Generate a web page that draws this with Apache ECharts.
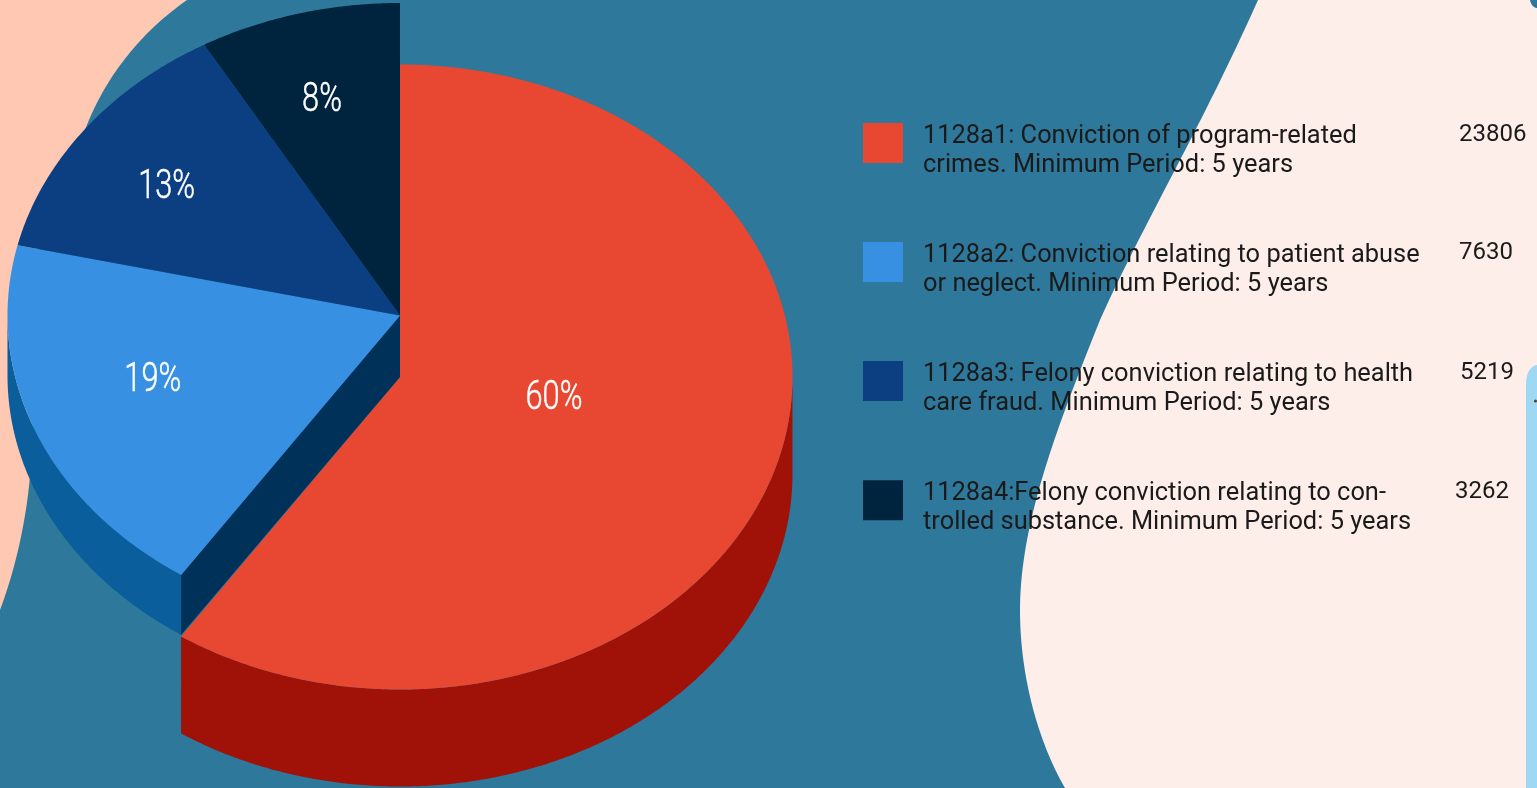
<!DOCTYPE html>
<html><head><meta charset="utf-8">
<style>html,body{margin:0;padding:0;width:1537px;height:788px;overflow:hidden;background:#FFC8B3}
#main{width:1537px;height:788px}#main canvas{filter:blur(.5px)}</style>
<script src="https://cdn.jsdelivr.net/npm/echarts@6/dist/echarts.min.js"></script></head>
<body><div id="main"></div>
<script>
const categories = [
  "1128a1: Conviction of program-related\ncrimes. Minimum Period: 5 years",
  "1128a2: Conviction relating to patient abuse\nor neglect. Minimum Period: 5 years",
  "1128a3: Felony conviction relating to health\ncare fraud. Minimum Period: 5 years",
  "1128a4:Felony conviction relating to con-\ntrolled substance. Minimum Period: 5 years"
];
const values = [23806, 7630, 5219, 3262];
const percentLabels = ["60%", "19%", "13%", "8%"];

const topColors = ["#E84831", "#3790E2", "#0B3F82", "#00233E"];
const wallColors = ["#A01207", "#0A5E9B", null, null];
const labelFx = [0.41, 0.677, 0.74, 0.77];
const labelFy = [0.21, 0.545, 0.70, 0.72];
const valueX = [1459, 1459, 1460, 1455];
const valueY = [133, 251, 371, 490];
const boundaryShift = [0, -0.8, -0.5, -0.5, 0];
const RX = 392.5, RY = 312.5, CX = 400, CY_BACK = 315.5, CY_FRONT = 377;
const DEPTH = [97, 60, 0, 0];
const CUT = "#003158";
const total = values.reduce((a, b) => a + b, 0);

function bound(i) {
  if (i <= 0) return 0;
  if (i >= values.length) return 360;
  let s = 0; for (let k = 0; k < i; k++) s += values[k];
  return s / total * 360 + boundaryShift[i];
}
function pt(theta, cy, dy) {
  const r = theta * Math.PI / 180;
  return [CX + RX * Math.sin(r), cy - RY * Math.cos(r) + (dy || 0)];
}
function arc(a, b, cy, dy) {
  const out = [], n = Math.max(2, Math.ceil(Math.abs(b - a) * 2));
  for (let j = 0; j <= n; j++) out.push(pt(a + (b - a) * j / n, cy, dy));
  return out;
}
function makeRender(i) {
  return function (params, api) {
    const a = bound(i), b = bound(i + 1);
    const cy = i === 0 ? CY_FRONT : CY_BACK;
    const kids = [];
    if (DEPTH[i]) {
      const wa = Math.max(a, 90), wb = Math.min(b, 270);
      const top = arc(wa, wb, cy, 0), low = arc(wb, wa, cy, DEPTH[i]);
      kids.push({type: "polygon", shape: {points: top.concat(low)}, style: {fill: wallColors[i]}});
    }
    if (i === 1) {
      kids.push({type: "polygon", shape: {points: [[CX, CY_BACK], pt(a, CY_BACK), pt(a, CY_BACK, DEPTH[1]), [CX, CY_FRONT]]}, style: {fill: CUT}});
    }
    kids.push({type: "polygon", shape: {points: [[CX, cy]].concat(arc(a, b, cy, 0))}, style: {fill: api.visual("color")}});
    const mid = (a + b) / 2 * Math.PI / 180;
    kids.push({type: "text", scaleX: 0.77,
      x: CX + RX * Math.sin(mid) * labelFx[i],
      y: cy - RY * Math.cos(mid) * labelFy[i] + 3,
      style: {
        text: percentLabels[i], fill: "#fff", stroke: "#fff", lineWidth: 0.5, font: "300 40px Roboto",
        align: "center", verticalAlign: "middle", x: 0, y: 0
      }});
    return {type: "group", children: kids};
  };
}
// Decorative backdrop outlines: a start point, then cubic segments of six numbers or straight lines of two
function outline(start, segs) {
  const pts = [start]; let p = start;
  segs.forEach(s => {
    if (s.length === 2) { pts.push(s); p = s; return; }
    for (let j = 1; j <= 40; j++) {
      const t = j / 40, u = 1 - t;
      pts.push([
        u*u*u*p[0] + 3*u*u*t*s[0] + 3*u*t*t*s[2] + t*t*t*s[4],
        u*u*u*p[1] + 3*u*u*t*s[1] + 3*u*t*t*s[3] + t*t*t*s[5]
      ]);
    }
    p = [s[4], s[5]];
  });
  return pts;
}
const bgShapes = [
  {p: outline([187,0], [[130,40,100,90,85,130],[20,300],[45,420,30,530,0,610],[0,788],[1100,788],[1300,0]]), fill: "#2E789B"},
  {p: outline([1258,0], [[1200,130,1140,230,1100,320],[1060,420,1020,520,1020,610],[1020,680,1040,745,1065,788],[1537,788],[1537,0]]), fill: "#FDEEE9"},
  {p: outline([1537,365], [[1531,366,1526,372,1526,385],[1526,788],[1537,788]]), fill: "#9FD8F3"},
  {p: outline([1530,0], [[1531,5,1534,8,1537,8],[1537,0]]), fill: "#2E789B"}
];
const chart = echarts.init(document.getElementById("main"));
chart.setOption({
  animation: false,
  backgroundColor: "#FFC8B3",
  color: topColors,
  graphic: bgShapes.map(s => ({type: "polygon", z: -1, silent: true, shape: {points: s.p}, style: {fill: s.fill}}))
    .concat([{type: "circle", z: -1, silent: true, shape: {cx: 1535.5, cy: 401, r: 1.5}, style: {fill: "#5a3a2a"}}])
    .concat(values.map((v, i) => ({type: "text", z: 10, silent: true, style: {
      text: String(v), x: valueX[i], y: valueY[i] + 2, verticalAlign: "middle",
      font: "24px Roboto", fill: "#1a1a1a"}}))),
  legend: {
    orient: "vertical", left: 863, top: 108.5, padding: 0, itemWidth: 40, itemHeight: 40, itemGap: 49.3,
    selectedMode: false, icon: "rect",
    data: categories,
    formatter: name => "{s| }\n" + name.split("\n").map(l => "{t|" + l + "}").join("\n"),
    textStyle: {
      padding: [0, 0, 0, 15],
      rich: {
        s: {fontSize: 10, lineHeight: 16},
        t: {fontFamily: "Roboto", fontSize: 25.4, lineHeight: 29.5, color: "#1a1a1a"}
      }
    },
    itemStyle: {borderWidth: 0}
  },
  series: values.map((v, i) => ({
    type: "custom", name: categories[i], coordinateSystem: "none",
    renderItem: makeRender(i), data: [[v]], silent: true,
    itemStyle: {color: topColors[i]}
  }))
});
</script></body></html>
